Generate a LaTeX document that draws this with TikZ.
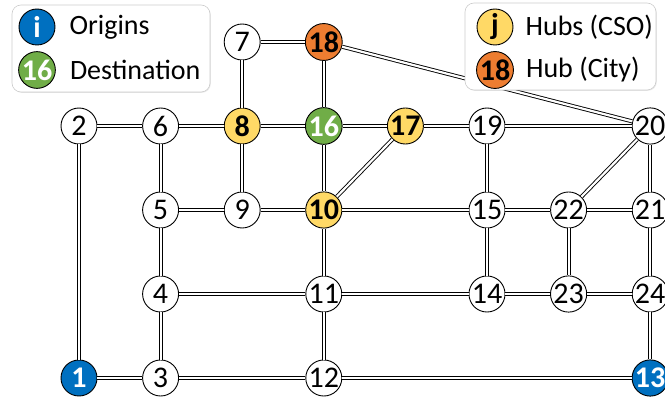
\documentclass[tikz,border=0pt]{standalone}
\usepackage{fontspec}
\setmainfont{Carlito}
\usepackage{tikz}
\usetikzlibrary{positioning,shadows}
\definecolor{netblue}{RGB}{0,112,192}
\definecolor{netgreen}{RGB}{112,173,71}
\definecolor{netyellow}{RGB}{255,217,102}
\definecolor{netorange}{RGB}{237,125,49}

\begin{document}
\begin{tikzpicture}[x=81.6pt,y=-84pt,
    font=\fontsize{28}{30}\selectfont,
    v/.style={draw,circle,line width=0.9pt,fill=white,minimum size=36pt,inner sep=0pt,
      font=\fontsize{30}{32}\selectfont},
    vo/.style={v,fill=netblue,text=white,font=\fontsize{30}{32}\selectfont\bfseries},
    vd/.style={v,fill=netgreen,text=white,font=\fontsize{30}{32}\selectfont\bfseries},
    vh/.style={v,fill=netyellow,font=\fontsize{30}{32}\selectfont\bfseries},
    vc/.style={v,fill=netorange,font=\fontsize{30}{32}\selectfont\bfseries},
    e/.style={draw=black,double=white,line width=0.9pt,double distance=2.2pt},
    legbox/.style={draw=black!20,fill=white,rounded corners=9pt,line width=0.6pt,
      drop shadow={shadow xshift=0.8pt,shadow yshift=-0.8pt,opacity=0.18}},
    legtext/.style={inner sep=1pt,anchor=west}]
    \useasboundingbox (-79pt,42pt) rectangle (586pt,-359pt);
    % network nodes
    \node[v]  (n7)  at (2,0) {7};
    \node[vc] (n18) at (3,0) {18};
    \node[v]  (n2)  at (0,1) {2};
    \node[v]  (n6)  at (1,1) {6};
    \node[vh] (n8)  at (2,1) {8};
    \node[vd] (n16) at (3,1) {16};
    \node[vh] (n17) at (4,1) {17};
    \node[v]  (n19) at (5,1) {19};
    \node[v]  (n20) at (7,1) {20};
    \node[v]  (n5)  at (1,2) {5};
    \node[v]  (n9)  at (2,2) {9};
    \node[vh] (n10) at (3,2) {10};
    \node[v]  (n15) at (5,2) {15};
    \node[v]  (n22) at (6,2) {22};
    \node[v]  (n21) at (7,2) {21};
    \node[v]  (n4)  at (1,3) {4};
    \node[v]  (n11) at (3,3) {11};
    \node[v]  (n14) at (5,3) {14};
    \node[v]  (n23) at (6,3) {23};
    \node[v]  (n24) at (7,3) {24};
    \node[vo] (n1)  at (0,4) {1};
    \node[v]  (n3)  at (1,4) {3};
    \node[v]  (n12) at (3,4) {12};
    \node[vo] (n13) at (7,4) {13};
    % links
    \draw[e] (n7)--(n18); \draw[e] (n7)--(n8); \draw[e] (n18)--(n16); \draw[e] (n18)--(n20);
    \draw[e] (n2)--(n6); \draw[e] (n6)--(n8); \draw[e] (n8)--(n16); \draw[e] (n16)--(n17);
    \draw[e] (n17)--(n19); \draw[e] (n19)--(n20);
    \draw[e] (n2)--(n1); \draw[e] (n6)--(n5); \draw[e] (n8)--(n9); \draw[e] (n16)--(n10);
    \draw[e] (n17)--(n10); \draw[e] (n19)--(n15); \draw[e] (n20)--(n22); \draw[e] (n20)--(n21);
    \draw[e] (n5)--(n9); \draw[e] (n9)--(n10); \draw[e] (n10)--(n15); \draw[e] (n15)--(n22);
    \draw[e] (n22)--(n21);
    \draw[e] (n5)--(n4); \draw[e] (n10)--(n11); \draw[e] (n15)--(n14); \draw[e] (n22)--(n23);
    \draw[e] (n21)--(n24);
    \draw[e] (n4)--(n11); \draw[e] (n11)--(n14); \draw[e] (n14)--(n23); \draw[e] (n23)--(n24);
    \draw[e] (n4)--(n3); \draw[e] (n11)--(n12); \draw[e] (n24)--(n13);
    \draw[e] (n1)--(n3); \draw[e] (n3)--(n12); \draw[e] (n12)--(n13);
    % legends
    \node[legbox,minimum width=198pt,minimum height=87pt] (legL) at (32pt,-6.5pt) {};
    \node[legbox,minimum width=191pt,minimum height=87pt] (legR) at (481.5pt,-4.5pt) {};
    \node[vo] (li) at (-42pt,15pt) {i};
    \node[vd] (ld) at (-42pt,-28pt) {16};
    \node[legtext,right=13pt of li] (lit) {Origins};
    \node[legtext,right=13pt of ld] (ldt) {Destination};
    \node[vh] (lj) at (416pt,15pt) {j};
    \node[vc] (lc) at (416pt,-28pt) {18};
    \node[legtext,right=11pt of lj] (ljt) {Hubs (CSO)};
    \node[legtext,right=11pt of lc] (lct) {Hub (City)};
  \end{tikzpicture}
\end{document}
